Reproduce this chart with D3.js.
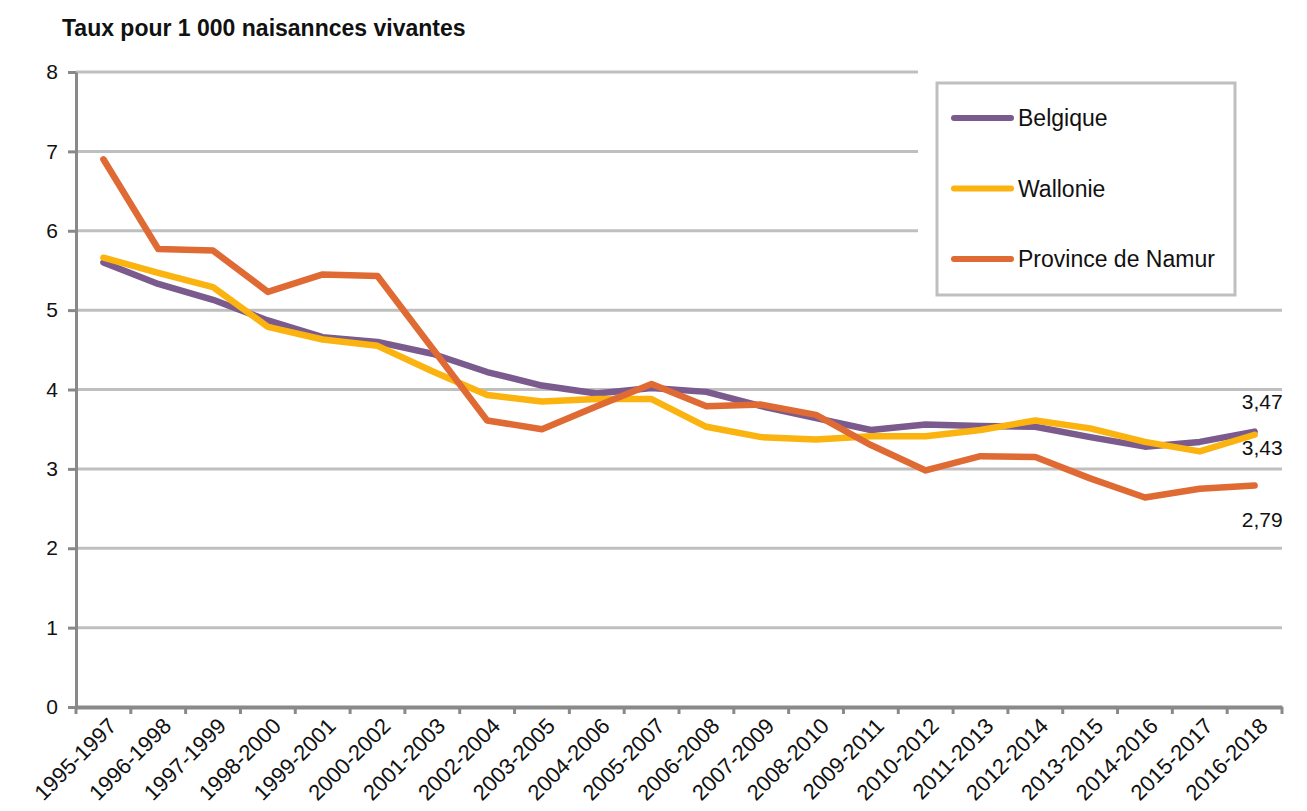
<!DOCTYPE html>
<html>
<head>
<meta charset="utf-8" />
<title>Taux pour 1 000 naissances vivantes</title>
<script src="https://d3js.org/d3.v7.min.js"></script>
<style>
  body { margin: 0; background: #fff; }
  text { font-family: "Liberation Sans", "DejaVu Sans", sans-serif; fill: #111; }
</style>
</head>
<body>
<svg id="chart" width="1307" height="811"></svg>
<script>
// data
var periods = ["1995-1997","1996-1998","1997-1999","1998-2000","1999-2001","2000-2002","2001-2003",
  "2002-2004","2003-2005","2004-2006","2005-2007","2006-2008","2007-2009","2008-2010","2009-2011",
  "2010-2012","2011-2013","2012-2014","2013-2015","2014-2016","2015-2017","2016-2018"];
var belgique = [5.60,5.33,5.13,4.87,4.66,4.60,4.45,4.22,4.05,3.95,4.02,3.97,3.79,3.64,3.49,3.56,3.54,3.53,3.40,3.28,3.34,3.47];
var wallonie = [5.66,5.47,5.29,4.79,4.63,4.55,4.23,3.93,3.85,3.88,3.88,3.53,3.40,3.37,3.41,3.41,3.49,3.61,3.51,3.34,3.22,3.43];
var namur    = [6.90,5.77,5.75,5.23,5.45,5.43,4.52,3.61,3.50,3.79,4.07,3.79,3.81,3.68,3.30,2.98,3.16,3.15,2.88,2.64,2.75,2.79];
var seriesNames = ["Belgique","Wallonie","Province de Namur"];
var seriesColors = ["#7b5b8e","#fbb30f","#e06a33"];
var yTicks = [0,1,2,3,4,5,6,7,8];
var endLabels = ["3,47","3,43","2,79"];

var series = [belgique, wallonie, namur];

var svg = d3.select("#chart");
// plot area edges (px)
var pLeft = 76, pRight = 1282, pTop = 72, pBottom = 707;

var x = d3.scaleBand().domain(periods).range([pLeft, pRight]);
var y = d3.scaleLinear().domain([0, 8]).range([pBottom, pTop]);

// title
svg.append("text").attr("x", 62).attr("y", 36)
  .style("font-weight", "bold").style("font-size", "23px")
  .text("Taux pour 1 000 naisannces vivantes");

// gridlines
svg.append("g").selectAll("line").data(yTicks.filter(function(d){ return d > 0; }))
  .enter().append("line")
  .attr("x1", pLeft).attr("x2", pRight)
  .attr("y1", function(d){ return y(d); }).attr("y2", function(d){ return y(d); })
  .attr("stroke", "#bfbfbf").attr("stroke-width", 3);

// y axis
var yAxis = svg.append("g").attr("transform", "translate(" + pLeft + ",0)")
  .call(d3.axisLeft(y).tickValues(yTicks).tickSize(8).tickPadding(10).tickSizeOuter(0));
yAxis.select(".domain").attr("stroke", "#898989").attr("stroke-width", 3);
yAxis.selectAll(".tick line").attr("stroke", "#898989").attr("stroke-width", 3);
yAxis.selectAll(".tick text").style("font-size", "21px").attr("fill", "#111")
  .style("font-family", "Liberation Sans, sans-serif");

// x axis
var xAxis = svg.append("g").attr("transform", "translate(0," + pBottom + ")")
  .call(d3.axisBottom(x).tickSize(0).tickSizeOuter(0));
xAxis.select(".domain").attr("stroke", "#898989").attr("stroke-width", 4);
// tick marks at category boundaries
xAxis.selectAll(".bound").data(d3.range(periods.length + 1)).enter().append("line")
  .attr("class", "bound")
  .attr("x1", function(i){ return pLeft + i * x.step(); })
  .attr("x2", function(i){ return pLeft + i * x.step(); })
  .attr("y1", 0).attr("y2", 7)
  .attr("stroke", "#898989").attr("stroke-width", 3);
xAxis.selectAll(".tick text")
  .style("font-size", "22px").style("font-family", "Liberation Sans, sans-serif").attr("fill", "#111")
  .attr("text-anchor", "end")
  .attr("transform", "translate(9,15) rotate(-45)")
  .attr("dy", "0.35em").attr("y", 0).attr("x", 0);

// lines
var line = d3.line()
  .x(function(d, i){ return x(periods[i]) + x.bandwidth() / 2; })
  .y(function(d){ return y(d); });

svg.append("g").selectAll("path").data(series).enter().append("path")
  .attr("d", line)
  .attr("fill", "none")
  .attr("stroke", function(d, i){ return seriesColors[i]; })
  .attr("stroke-width", 6.5)
  .attr("stroke-linejoin", "round")
  .attr("stroke-linecap", "round");

// end labels
var lastX = x(periods[periods.length - 1]) + x.bandwidth() / 2;
var labelDy = [-30, 13, 34];
svg.append("g").selectAll("text").data(series).enter().append("text")
  .attr("x", lastX + 28)
  .attr("y", function(d, i){ return y(d[d.length - 1]) + labelDy[i]; })
  .attr("text-anchor", "end")
  .attr("dy", "0.35em")
  .style("font-size", "21px")
  .text(function(d, i){ return endLabels[i]; });

// legend
var lg = svg.append("g");
lg.append("rect").attr("x", 918).attr("y", 60).attr("width", 380).attr("height", 240).attr("fill", "#fff");
lg.append("rect").attr("x", 937).attr("y", 83).attr("width", 298).attr("height", 212)
  .attr("fill", "#fff").attr("stroke", "#bfbfbf").attr("stroke-width", 3);
var items = lg.selectAll(".item").data(seriesNames).enter().append("g")
  .attr("transform", function(d, i){ return "translate(0," + (118 + i * 70.5) + ")"; });
items.append("line").attr("x1", 954).attr("x2", 1011).attr("y1", 0).attr("y2", 0)
  .attr("stroke", function(d, i){ return seriesColors[i]; })
  .attr("stroke-width", 6).attr("stroke-linecap", "round");
items.append("text").attr("x", 1018).attr("dy", "0.35em")
  .style("font-size", "23px").text(function(d){ return d; });
</script>
</body>
</html>
